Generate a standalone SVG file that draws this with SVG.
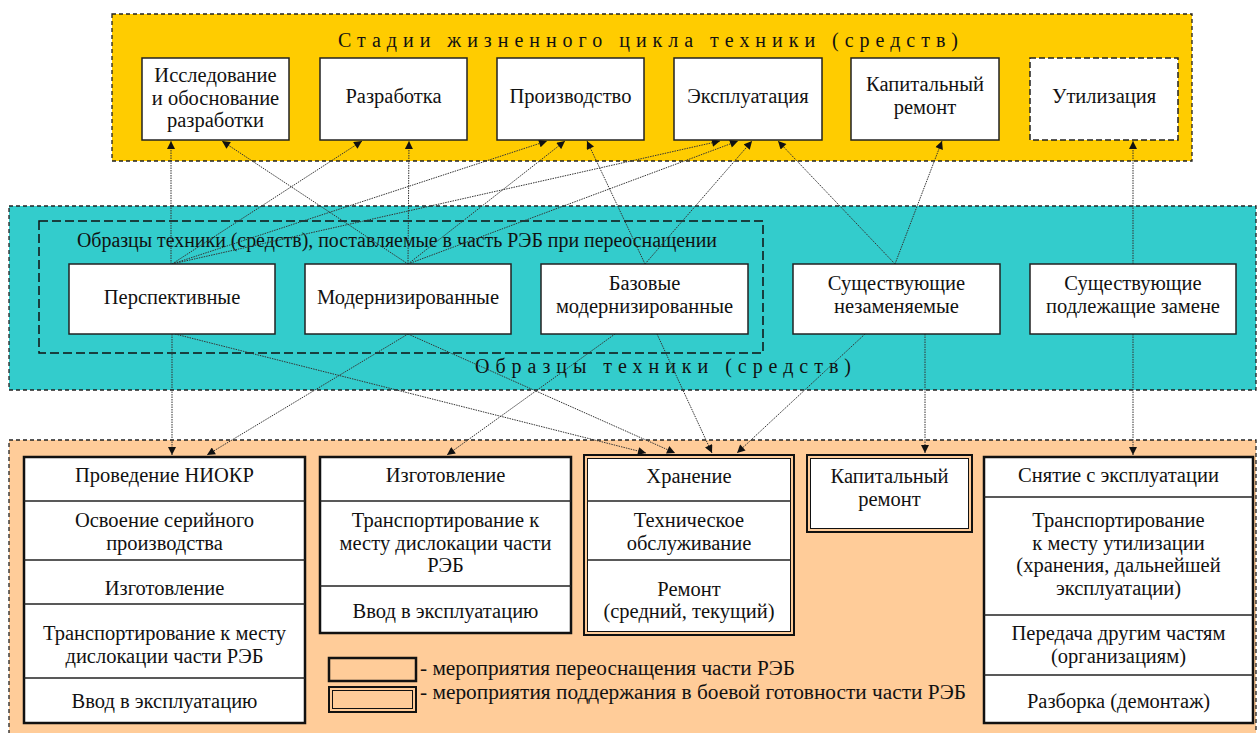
<svg xmlns="http://www.w3.org/2000/svg" width="1258" height="733" viewBox="0 0 1258 733">
<defs>
<style>
.t{font-family:"Liberation Serif","Times New Roman",serif;font-size:20.5px;fill:#111;text-anchor:middle}
.ts{font-family:"Liberation Serif","Times New Roman",serif;font-size:20px;fill:#111}
.box{fill:#fff;stroke:#222;stroke-width:1.5}
.dbox{fill:#fff;stroke:#222;stroke-width:1.5;stroke-dasharray:6 3}
.thick{fill:#fff;stroke:#111;stroke-width:2.5}
.outer{fill:none;stroke:#111;stroke-width:2}
.inner{fill:#fff;stroke:#111;stroke-width:1}
.div{stroke:#222;stroke-width:1.3}
.cont{stroke:#222;stroke-width:1.3;stroke-dasharray:4 3}
.conn{stroke:#333;stroke-width:1;stroke-dasharray:1.5 1;fill:none;marker-end:url(#ah)}
</style>
<marker id="ah" viewBox="0 0 10 10" refX="10" refY="5" markerWidth="9" markerHeight="8" markerUnits="userSpaceOnUse" orient="auto">
<path d="M0,0 L10,5 L0,10 z" fill="#111"/>
</marker>
</defs>
<rect x="0" y="0" width="1258" height="733" fill="#fff"/>

<g id="stages-container">
<rect class="cont" x="112" y="14" width="1080" height="147" fill="#FFCC00"/>
<text class="ts" x="338" y="47" textLength="620" lengthAdjust="spacing">Стадии жизненного цикла техники (средств)</text>
</g>

<g id="samples-container">
<rect class="cont" x="9" y="206" width="1247" height="184" fill="#33CCCC"/>
<rect x="39" y="221" width="724" height="132" fill="none" stroke="#111" stroke-width="1.5" stroke-dasharray="9 4"/>
<text class="ts" x="77" y="247" textLength="640" lengthAdjust="spacingAndGlyphs">Образцы техники (средств), поставляемые в часть РЭБ при переоснащении</text>
<text class="ts" x="475" y="373" textLength="376" lengthAdjust="spacing">Образцы техники (средств)</text>
</g>

<g id="activities-container">
<rect class="cont" x="9" y="440" width="1247" height="300" fill="#FFCC99"/>
</g>

<g id="connectors">
<line class="conn" x1="171" y1="264" x2="171" y2="141"/>
<line class="conn" x1="172" y1="264" x2="362" y2="141"/>
<line class="conn" x1="172" y1="264" x2="547" y2="141"/>
<line class="conn" x1="172" y1="264" x2="720" y2="141"/>
<line class="conn" x1="408" y1="264" x2="222" y2="141"/>
<line class="conn" x1="408" y1="264" x2="409" y2="141"/>
<line class="conn" x1="408" y1="264" x2="565" y2="141"/>
<line class="conn" x1="408" y1="264" x2="738" y2="141"/>
<line class="conn" x1="645" y1="264" x2="587" y2="141"/>
<line class="conn" x1="645" y1="264" x2="752" y2="141"/>
<line class="conn" x1="895" y1="264" x2="778" y2="141"/>
<line class="conn" x1="895" y1="264" x2="942" y2="141"/>
<line class="conn" x1="1133" y1="264" x2="1133" y2="141"/>
<line class="conn" x1="172" y1="334" x2="172" y2="455"/>
<line class="conn" x1="408" y1="334" x2="207" y2="455"/>
<line class="conn" x1="175" y1="334" x2="646" y2="453"/>
<line class="conn" x1="408" y1="334" x2="675" y2="453"/>
<line class="conn" x1="615" y1="334" x2="447" y2="455"/>
<line class="conn" x1="657" y1="334" x2="712" y2="453"/>
<line class="conn" x1="865" y1="334" x2="737" y2="453"/>
<line class="conn" x1="925" y1="334" x2="925" y2="453"/>
<line class="conn" x1="1133" y1="334" x2="1133" y2="455"/>
</g>

<g id="stage-research">
<rect class="box" x="142" y="58" width="147" height="82"/>
<text class="t" x="215.5" y="82">Исследование</text>
<text class="t" x="215.5" y="105">и обоснование</text>
<text class="t" x="215.5" y="127">разработки</text>
</g>
<g id="stage-development">
<rect class="box" x="320" y="58" width="147" height="82"/>
<text class="t" x="393.5" y="103">Разработка</text>
</g>
<g id="stage-production">
<rect class="box" x="497" y="58" width="147" height="82"/>
<text class="t" x="570.5" y="103">Производство</text>
</g>
<g id="stage-operation">
<rect class="box" x="674" y="58" width="148" height="82"/>
<text class="t" x="748" y="103">Эксплуатация</text>
</g>
<g id="stage-overhaul">
<rect class="box" x="851" y="58" width="148" height="82"/>
<text class="t" x="925" y="91">Капитальный</text>
<text class="t" x="925" y="114">ремонт</text>
</g>
<g id="stage-disposal">
<rect class="dbox" x="1030" y="58" width="148" height="82"/>
<text class="t" x="1104" y="103">Утилизация</text>
</g>

<g id="sample-perspective">
<rect class="box" x="69" y="264" width="206" height="70"/>
<text class="t" x="172" y="304">Перспективные</text>
</g>
<g id="sample-modernized">
<rect class="box" x="305" y="264" width="206" height="70"/>
<text class="t" x="408" y="304">Модернизированные</text>
</g>
<g id="sample-base-modernized">
<rect class="box" x="541" y="264" width="207" height="70"/>
<text class="t" x="644.5" y="290">Базовые</text>
<text class="t" x="644.5" y="313">модернизированные</text>
</g>
<g id="sample-existing-kept">
<rect class="box" x="793" y="264" width="207" height="70"/>
<text class="t" x="896.5" y="290">Существующие</text>
<text class="t" x="896.5" y="313">незаменяемые</text>
</g>
<g id="sample-existing-replaced">
<rect class="box" x="1030" y="264" width="206" height="70"/>
<text class="t" x="1133" y="290">Существующие</text>
<text class="t" x="1133" y="313">подлежащие замене</text>
</g>

<g id="activity-new">
<rect class="thick" x="24" y="457" width="281" height="266"/>
<line class="div" x1="24" y1="501" x2="305" y2="501"/>
<line class="div" x1="24" y1="560" x2="305" y2="560"/>
<line class="div" x1="24" y1="604" x2="305" y2="604"/>
<line class="div" x1="24" y1="678" x2="305" y2="678"/>
<text class="t" x="164.5" y="482">Проведение НИОКР</text>
<text class="t" x="164.5" y="527">Освоение серийного</text>
<text class="t" x="164.5" y="550">производства</text>
<text class="t" x="164.5" y="595">Изготовление</text>
<text class="t" x="164.5" y="640">Транспортирование к месту</text>
<text class="t" x="164.5" y="663">дислокации части РЭБ</text>
<text class="t" x="164.5" y="708">Ввод в эксплуатацию</text>
</g>

<g id="activity-manufacture">
<rect class="thick" x="320" y="457" width="251" height="176"/>
<line class="div" x1="320" y1="501" x2="571" y2="501"/>
<line class="div" x1="320" y1="586" x2="571" y2="586"/>
<text class="t" x="445.5" y="482">Изготовление</text>
<text class="t" x="445.5" y="527">Транспортирование к</text>
<text class="t" x="445.5" y="550">месту дислокации части</text>
<text class="t" x="445.5" y="572">РЭБ</text>
<text class="t" x="445.5" y="618">Ввод в эксплуатацию</text>
</g>

<g id="activity-storage">
<rect class="outer" x="584" y="455" width="210" height="180"/>
<rect class="inner" x="587.5" y="458.5" width="203" height="173"/>
<line class="div" x1="587.5" y1="501" x2="790.5" y2="501"/>
<line class="div" x1="587.5" y1="560" x2="790.5" y2="560"/>
<text class="t" x="689" y="483">Хранение</text>
<text class="t" x="689" y="527">Техническое</text>
<text class="t" x="689" y="550">обслуживание</text>
<text class="t" x="689" y="596">Ремонт</text>
<text class="t" x="689" y="618">(средний, текущий)</text>
</g>

<g id="activity-overhaul">
<rect class="outer" x="807" y="455" width="165" height="77"/>
<rect class="inner" x="810.5" y="458.5" width="158" height="70"/>
<text class="t" x="889.5" y="483">Капитальный</text>
<text class="t" x="889.5" y="506">ремонт</text>
</g>

<g id="activity-disposal">
<rect class="thick" x="984" y="457" width="269" height="266"/>
<line class="div" x1="984" y1="497" x2="1253" y2="497"/>
<line class="div" x1="984" y1="615" x2="1253" y2="615"/>
<line class="div" x1="984" y1="675" x2="1253" y2="675"/>
<text class="t" x="1118.5" y="482">Снятие с эксплуатации</text>
<text class="t" x="1118.5" y="527">Транспортирование</text>
<text class="t" x="1118.5" y="550">к месту утилизации</text>
<text class="t" x="1118.5" y="572">(хранения, дальнейшей</text>
<text class="t" x="1118.5" y="595">эксплуатации)</text>
<text class="t" x="1118.5" y="640">Передача другим частям</text>
<text class="t" x="1118.5" y="663">(организациям)</text>
<text class="t" x="1118.5" y="708">Разборка (демонтаж)</text>
</g>

<g id="legend">
<rect x="329" y="658" width="87" height="23" fill="#FFCC99" stroke="#111" stroke-width="2.5"/>
<rect x="329" y="687" width="87" height="25" fill="#FFCC99" stroke="#111" stroke-width="2"/>
<rect x="332.5" y="690.5" width="80" height="18" fill="none" stroke="#111" stroke-width="1"/>
<text class="ts" x="420" y="675" font-size="21" textLength="375" lengthAdjust="spacingAndGlyphs">- мероприятия переоснащения части РЭБ</text>
<text class="ts" x="420" y="699" font-size="21" textLength="546" lengthAdjust="spacingAndGlyphs">- мероприятия поддержания в боевой готовности части РЭБ</text>
</g>
</svg>
